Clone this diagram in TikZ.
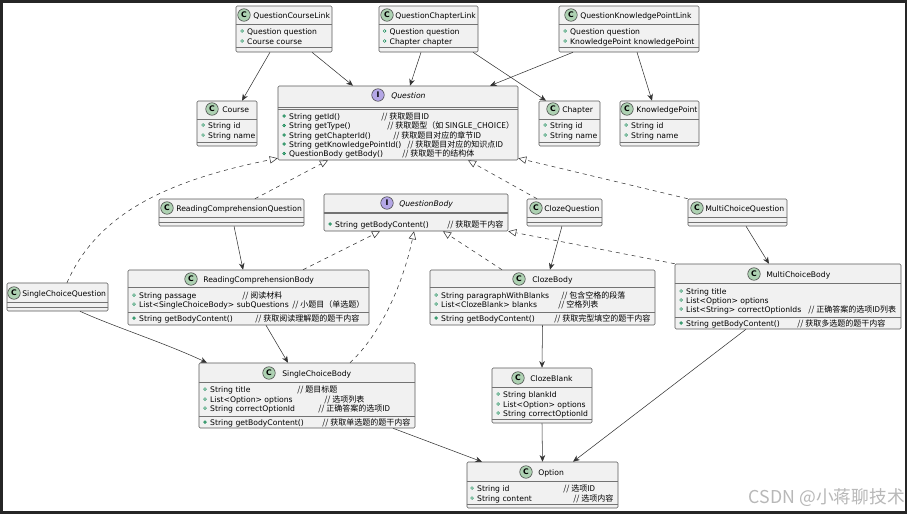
\documentclass[tikz,border=0pt]{standalone}
\usepackage{xcolor}
\usepackage{fontspec}
\usepackage{tikz}
\usetikzlibrary{arrows.meta,fit}
\setmainfont{DejaVu Sans}
\newfontfamily\cjk{Noto Sans CJK SC}

\definecolor{boxfill}{HTML}{F1F1F1}
\definecolor{classgreen}{HTML}{ADD1B2}
\definecolor{ifacepurple}{HTML}{B4A7E5}
\definecolor{dotgreen}{HTML}{038048}

% box: name, x0, y0, x1, y1, first rule, second rule
\newcommand{\classbox}[7]{
    \node[classbox, fit={(#2,#3) (#4,#5)}] (#1) {};
    \draw[boxrule] (#1.west |- 0,#6) -- (#1.east |- 0,#6);
    \draw[boxrule] (#1.west |- 0,#7) -- (#1.east |- 0,#7);
}
% head: name, icon style, letter, icon x, y, text x, title
\newcommand{\classhead}[7]{
    \node[#2] (#1-icon) at (#4,#5) {#3};
    \node[membertext] (#1-title) at (#6,#5) {#7};
}
% member: name, dot style, dot x, y, text
\newcommand{\member}[5]{
    \node[#2] (#1-dot) at (#3,#4) {};
    \node[membertext, xshift=3.7pt] (#1) at (#3,#4) {#5};
}
% remark: name, x, y, text
\newcommand{\remark}[4]{
    \node[remarktext] (#1-remark) at (#2,#3) {// #4};
}

\begin{document}
\begin{tikzpicture}[x=0.75pt, y=-0.75pt,
    every node/.style={font=\fontsize{5.75}{6}\selectfont},
    classbox/.style={draw=black!65, fill=boxfill, line width=0.4pt, rounded corners=1pt, inner sep=0pt},
    boxrule/.style={black!55, line width=0.4pt},
    membertext/.style={anchor=west, inner sep=0pt, yshift=-0.9pt, text height=4pt, text depth=1.2pt},
    remarktext/.style={anchor=west, inner sep=0pt, yshift=-0.9pt, text height=4pt, text depth=1.2pt, font=\cjk\fontsize{6}{6}\selectfont},
    cicon/.style={circle, draw=black!75, fill=classgreen, line width=0.4pt, minimum size=9.4pt, inner sep=0pt, font=\bfseries\fontsize{5.8}{6}\selectfont},
    iicon/.style={circle, draw=black!75, fill=ifacepurple, line width=0.4pt, minimum size=9.4pt, inner sep=0pt, font=\bfseries\fontsize{5.8}{6}\selectfont},
    fielddot/.style={circle, draw=dotgreen, fill=white, line width=0.3pt, minimum size=2.2pt, inner sep=0pt},
    methoddot/.style={circle, draw=dotgreen, fill=dotgreen!60, line width=0.3pt, minimum size=2.2pt, inner sep=0pt},
    assoc/.style={-{Stealth[length=5pt, width=4.2pt, inset=1.6pt]}, black!80, line width=0.4pt},
    impl/.style={-{Triangle[open, length=6pt, width=5.5pt]}, black!80, line width=0.4pt, dash pattern=on 3pt off 3pt}]

    \useasboundingbox (0,0) rectangle (908,514);
    \fill[white] (0,0) rectangle (908,514);

    % Outer frame
    \draw[black!85, line width=2.2pt] (1.5,1.5) rectangle (906,512.5);

    % Link classes
    \classbox{CourseLink}{236}{6}{332}{52}{24}{47}
    \classhead{CourseLink}{cicon}{C}{244}{15}{253}{QuestionCourseLink}
    \member{clQuestion}{fielddot}{242}{31}{Question question}
    \member{clCourse}{fielddot}{242}{41}{Course course}

    \classbox{ChapterLink}{379}{6}{478}{52}{24}{47}
    \classhead{ChapterLink}{cicon}{C}{387}{15}{395}{QuestionChapterLink}
    \member{chlQuestion}{fielddot}{384.5}{31}{Question question}
    \member{chlChapter}{fielddot}{384.5}{41}{Chapter chapter}

    \classbox{PointLink}{559}{6}{699}{52}{24}{47}
    \classhead{PointLink}{cicon}{C}{571}{15}{580}{QuestionKnowledgePointLink}
    \member{plQuestion}{fielddot}{565}{31}{Question question}
    \member{plPoint}{fielddot}{565}{41}{KnowledgePoint knowledgePoint}

    % Target classes
    \classbox{Course}{197}{101}{257}{146}{119}{142}
    \classhead{Course}{cicon}{C}{212}{109}{222}{Course}
    \member{courseId}{fielddot}{203}{125}{String id}
    \member{courseName}{fielddot}{203}{135}{String name}

    \classbox{Chapter}{539}{101}{600}{146}{119}{142}
    \classhead{Chapter}{cicon}{C}{553}{109}{562}{Chapter}
    \member{chapterId}{fielddot}{545}{125}{String id}
    \member{chapterName}{fielddot}{545}{135}{String name}

    \classbox{Point}{620}{101}{699}{146}{119}{142}
    \classhead{Point}{cicon}{C}{627}{109}{636}{KnowledgePoint}
    \member{pointId}{fielddot}{626}{125}{String id}
    \member{pointName}{fielddot}{626}{135}{String name}

    % Question interface
    \classbox{Question}{278}{86}{518}{160}{107.5}{109}
    \classhead{Question}{iicon}{I}{378}{95}{391}{\itshape Question}
    \member{getId}{methoddot}{284}{116}{String getId()}
    \remark{getId}{381}{116}{获取题目ID}
    \member{getType}{methoddot}{284}{125.5}{String getType()}
    \remark{getType}{387}{125.5}{获取题型（如 SINGLE\_CHOICE）}
    \member{getChapterId}{methoddot}{284}{135}{String getChapterId()}
    \remark{getChapterId}{393}{135}{获取题目对应的章节ID}
    \member{getPointId}{methoddot}{284}{144}{String getKnowledgePointId()}
    \remark{getPointId}{407}{144}{获取题目对应的知识点ID}
    \member{getBody}{methoddot}{284}{153.5}{QuestionBody getBody()}
    \remark{getBody}{402}{153.5}{获取题干的结构体}

    % Question classes
    \classbox{ReadingQuestion}{159}{199}{304}{226}{217}{222}
    \classhead{ReadingQuestion}{cicon}{C}{167}{208}{176}{ReadingComprehensionQuestion}

    \classbox{SingleQuestion}{7}{283}{108}{311}{302}{307}
    \classhead{SingleQuestion}{cicon}{C}{14}{293}{22}{SingleChoiceQuestion}

    \classbox{ClozeQuestion}{527}{199}{602}{226}{217}{222}
    \classhead{ClozeQuestion}{cicon}{C}{536}{208}{544}{ClozeQuestion}

    \classbox{MultiQuestion}{688}{199}{787}{226}{217}{222}
    \classhead{MultiQuestion}{cicon}{C}{697}{208}{705}{MultiChoiceQuestion}

    % QuestionBody interface
    \classbox{QuestionBody}{324}{194}{508}{231}{212}{213}
    \classhead{QuestionBody}{iicon}{I}{387}{203}{399}{\itshape QuestionBody}
    \member{getContent}{methoddot}{330}{224}{String getBodyContent()}
    \remark{getContent}{447}{224}{获取题干内容}

    % Body classes
    \classbox{ReadingBody}{128}{270}{369}{325}{287}{312}
    \classhead{ReadingBody}{cicon}{C}{191}{279}{203}{ReadingComprehensionBody}
    \member{passage}{fielddot}{134}{295}{String passage}
    \remark{passage}{242}{295}{阅读材料}
    \member{subQuestions}{fielddot}{134}{304}{List<SingleChoiceBody> subQuestions}
    \remark{subQuestions}{292}{304}{小题目（单选题）}
    \member{readingContent}{methoddot}{134}{318}{String getBodyContent()}
    \remark{readingContent}{255}{318}{获取阅读理解题的题干内容}

    \classbox{ClozeBody}{430}{270}{655}{325}{287}{312}
    \classhead{ClozeBody}{cicon}{C}{519}{279}{532}{ClozeBody}
    \member{paragraph}{fielddot}{436}{295}{String paragraphWithBlanks}
    \remark{paragraph}{561}{295}{包含空格的段落}
    \member{blanks}{fielddot}{436}{304}{List<ClozeBlank> blanks}
    \remark{blanks}{558}{304}{空格列表}
    \member{clozeContent}{methoddot}{436}{318}{String getBodyContent()}
    \remark{clozeContent}{554}{318}{获取完型填空的题干内容}

    \classbox{MultiBody}{675}{264}{901}{329}{283}{317}
    \classhead{MultiBody}{cicon}{C}{754}{274}{766}{MultiChoiceBody}
    \member{multiTitle}{fielddot}{681}{291}{String title}
    \member{multiOptions}{fielddot}{681}{300}{List<Option> options}
    \member{multiCorrect}{fielddot}{681}{309}{List<String> correctOptionIds}
    \remark{multiCorrect}{808}{309}{正确答案的选项ID列表}
    \member{multiContent}{methoddot}{681}{323}{String getBodyContent()}
    \remark{multiContent}{797}{323}{获取多选题的题干内容}

    \classbox{SingleBody}{199}{363}{415}{428}{382}{416}
    \classhead{SingleBody}{cicon}{C}{269}{373}{282}{SingleChoiceBody}
    \member{singleTitle}{fielddot}{205}{389}{String title}
    \remark{singleTitle}{297}{389}{题目标题}
    \member{singleOptions}{fielddot}{205}{399}{List<Option> options}
    \remark{singleOptions}{324}{399}{选项列表}
    \member{singleCorrect}{fielddot}{205}{408}{String correctOptionId}
    \remark{singleCorrect}{318}{408}{正确答案的选项ID}
    \member{singleContent}{methoddot}{205}{422}{String getBodyContent()}
    \remark{singleContent}{322}{422}{获取单选题的题干内容}

    \classbox{ClozeBlank}{492}{368}{592}{423}{387}{419}
    \classhead{ClozeBlank}{cicon}{C}{518}{378}{530}{ClozeBlank}
    \member{blankId}{fielddot}{498}{394}{String blankId}
    \member{blankOptions}{fielddot}{498}{404}{List<Option> options}
    \member{blankCorrect}{fielddot}{498}{413}{String correctOptionId}

    \classbox{Option}{467}{462}{618}{508}{481}{504}
    \classhead{Option}{cicon}{C}{526}{472}{538}{Option}
    \member{optionId}{fielddot}{472}{488}{String id}
    \remark{optionId}{563}{488}{选项ID}
    \member{optionContent}{fielddot}{472}{498}{String content}
    \remark{optionContent}{573}{498}{选项内容}

    % Associations
    \draw[assoc] ([xshift=-10.5pt]CourseLink.south) -- ([xshift=11.25pt]Course.north);
    \draw[assoc] ([xshift=21pt]CourseLink.south) -- ([xshift=-33.75pt]Question.north);
    \draw[assoc] ([xshift=-5.6pt]ChapterLink.south) -- ([xshift=9pt]Question.north);
    \draw[assoc] ([xshift=33.4pt]ChapterLink.south) -- ([xshift=-17.6pt]Chapter.north);
    \draw[assoc] ([xshift=-42pt]PointLink.south) -- ([xshift=69pt]Question.north);
    \draw[assoc] ([xshift=6pt]PointLink.south) -- ([xshift=-5.6pt]Point.north);
    \draw[assoc] ([xshift=1.9pt]ReadingQuestion.south) -- ([xshift=-4.1pt]ReadingBody.north);
    \draw[assoc] ([xshift=-1.9pt]ClozeQuestion.south) -- ([xshift=5.6pt]ClozeBody.north);
    \draw[assoc] ([xshift=6.4pt]MultiQuestion.south) -- ([xshift=-14.25pt]MultiBody.north);
    \draw[assoc] ([xshift=16.9pt]SingleQuestion.south) .. controls (112,326) and (165,343) .. ([xshift=-75pt]SingleBody.north);
    \draw[assoc] ([xshift=13.1pt]ReadingBody.south) -- ([xshift=-14.25pt]SingleBody.north);
    \draw[assoc] (ClozeBody.south) -- (ClozeBlank.north);
    \draw[assoc] (ClozeBlank.south) -- (Option.north);
    \draw[assoc] ([xshift=64.5pt]SingleBody.south) -- ([xshift=-45.4pt]Option.north);
    \draw[assoc] ([xshift=-31.5pt]MultiBody.south) -- ([xshift=22.9pt]Option.north);

    % Implementations
    \draw[impl] ([xshift=7.1pt]SingleQuestion.north) .. controls (98,212) and (170,180) .. ([yshift=1.5pt]Question.south west);
    \draw[impl] ([xshift=17.6pt]ReadingQuestion.north) -- ([xshift=-52.5pt]Question.south);
    \draw[impl] ([xshift=-20.6pt]ClozeQuestion.north) -- ([xshift=52.5pt]Question.south);
    \draw[impl] (MultiQuestion.north west) -- ([yshift=1.5pt]Question.south east);
    \draw[impl] ([xshift=40.9pt]ReadingBody.north) -- ([xshift=-27pt]QuestionBody.south);
    \draw[impl] ([xshift=-30.4pt]ClozeBody.north) -- ([xshift=20.25pt]QuestionBody.south);
    \draw[impl] (MultiBody.north west) -- (QuestionBody.south east);
    \draw[impl] ([xshift=32.25pt]SingleBody.north) .. controls (385,330) and (405,275) .. ([xshift=-1.5pt]QuestionBody.south);

    % Watermark
    \node[anchor=east, inner sep=0pt, text=black!28, font=\cjk\fontsize{13.3}{14}\selectfont] (watermark) at (905,498) {CSDN @小蒋聊技术};
\end{tikzpicture}
\end{document}
